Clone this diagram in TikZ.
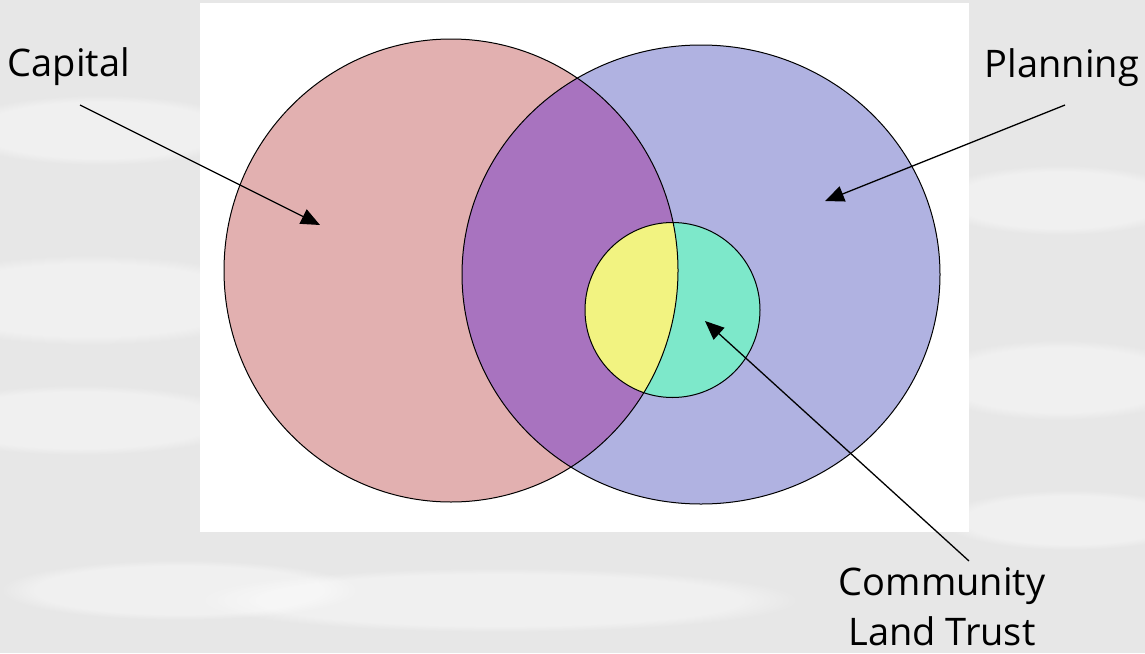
\documentclass[tikz,border=0pt]{standalone}
\usepackage{fontspec}
\setmainfont{Open Sans}
\usetikzlibrary{arrows.meta,fadings}
\definecolor{bggray}{HTML}{E7E7E7}
\definecolor{capfill}{HTML}{E2B0B0}
\definecolor{planfill}{HTML}{B0B2E1}
\definecolor{bothfill}{HTML}{A873BF}
\definecolor{cltfill}{HTML}{7DE8CA}
\definecolor{cltcap}{HTML}{F2F381}
\begin{document}
\begin{tikzpicture}[x=1pt,y=-1pt,
  outline/.style={draw=black,line width=1pt},
  label/.style={inner sep=0pt,font=\fontsize{38}{50}\selectfont},
  pointer/.style={draw=black,line width=1.3pt,-{Triangle[length=19pt,width=16pt]}},
  streak/.style={fill=white,path fading=circle with fuzzy edge 20 percent,opacity=0.4}]
\useasboundingbox (0,0) rectangle (1145,653);
% background
\fill[bggray] (0,0) rectangle (1145,653);
\fill[streak] (90,300) ellipse [x radius=190,y radius=45];
\fill[streak] (80,420) ellipse [x radius=170,y radius=35];
\fill[streak] (100,130) ellipse [x radius=150,y radius=35];
\fill[streak] (1060,380) ellipse [x radius=140,y radius=40];
\fill[streak] (1070,520) ellipse [x radius=130,y radius=30];
\fill[streak] (1060,200) ellipse [x radius=130,y radius=35];
\fill[streak] (500,600) ellipse [x radius=300,y radius=32];
\fill[streak] (180,590) ellipse [x radius=180,y radius=30];
\fill[white] (200,3) rectangle (969,532);
% fills
\fill[capfill] (451,270.5) ellipse [x radius=227,y radius=231.5];
\fill[planfill] (701,274.5) ellipse [x radius=239,y radius=229.5];
\begin{scope}
  \clip (451,270.5) ellipse [x radius=227,y radius=231.5];
  \fill[bothfill] (701,274.5) ellipse [x radius=239,y radius=229.5];
\end{scope}
\fill[cltfill] (672.5,310) circle [radius=87.5];
\begin{scope}
  \clip (451,270.5) ellipse [x radius=227,y radius=231.5];
  \fill[cltcap] (672.5,310) circle [radius=87.5];
\end{scope}
% outlines
\draw[outline] (451,270.5) ellipse [x radius=227,y radius=231.5];
\draw[outline] (701,274.5) ellipse [x radius=239,y radius=229.5];
\draw[outline] (672.5,310) circle [radius=87.5];
% labels
\node[label,anchor=base west] (cap) at (7.5,76) {Capital};
\node[label,anchor=base east] (plan) at (1139,77) {Planning};
\node[label,anchor=north,align=center] (clt) at (942,567) {Community\\Land Trust};
% connectors
\coordinate (capStart) at (80,105);
\coordinate (capTip) at (320,225);
\coordinate (planStart) at (1065,105);
\coordinate (planTip) at (825,201);
\coordinate (cltStart) at (969,561);
\coordinate (cltTip) at (705,321);
\draw[pointer] (capStart) -- (capTip);
\draw[pointer] (planStart) -- (planTip);
\draw[pointer] (cltStart) -- (cltTip);
\end{tikzpicture}
\end{document}
